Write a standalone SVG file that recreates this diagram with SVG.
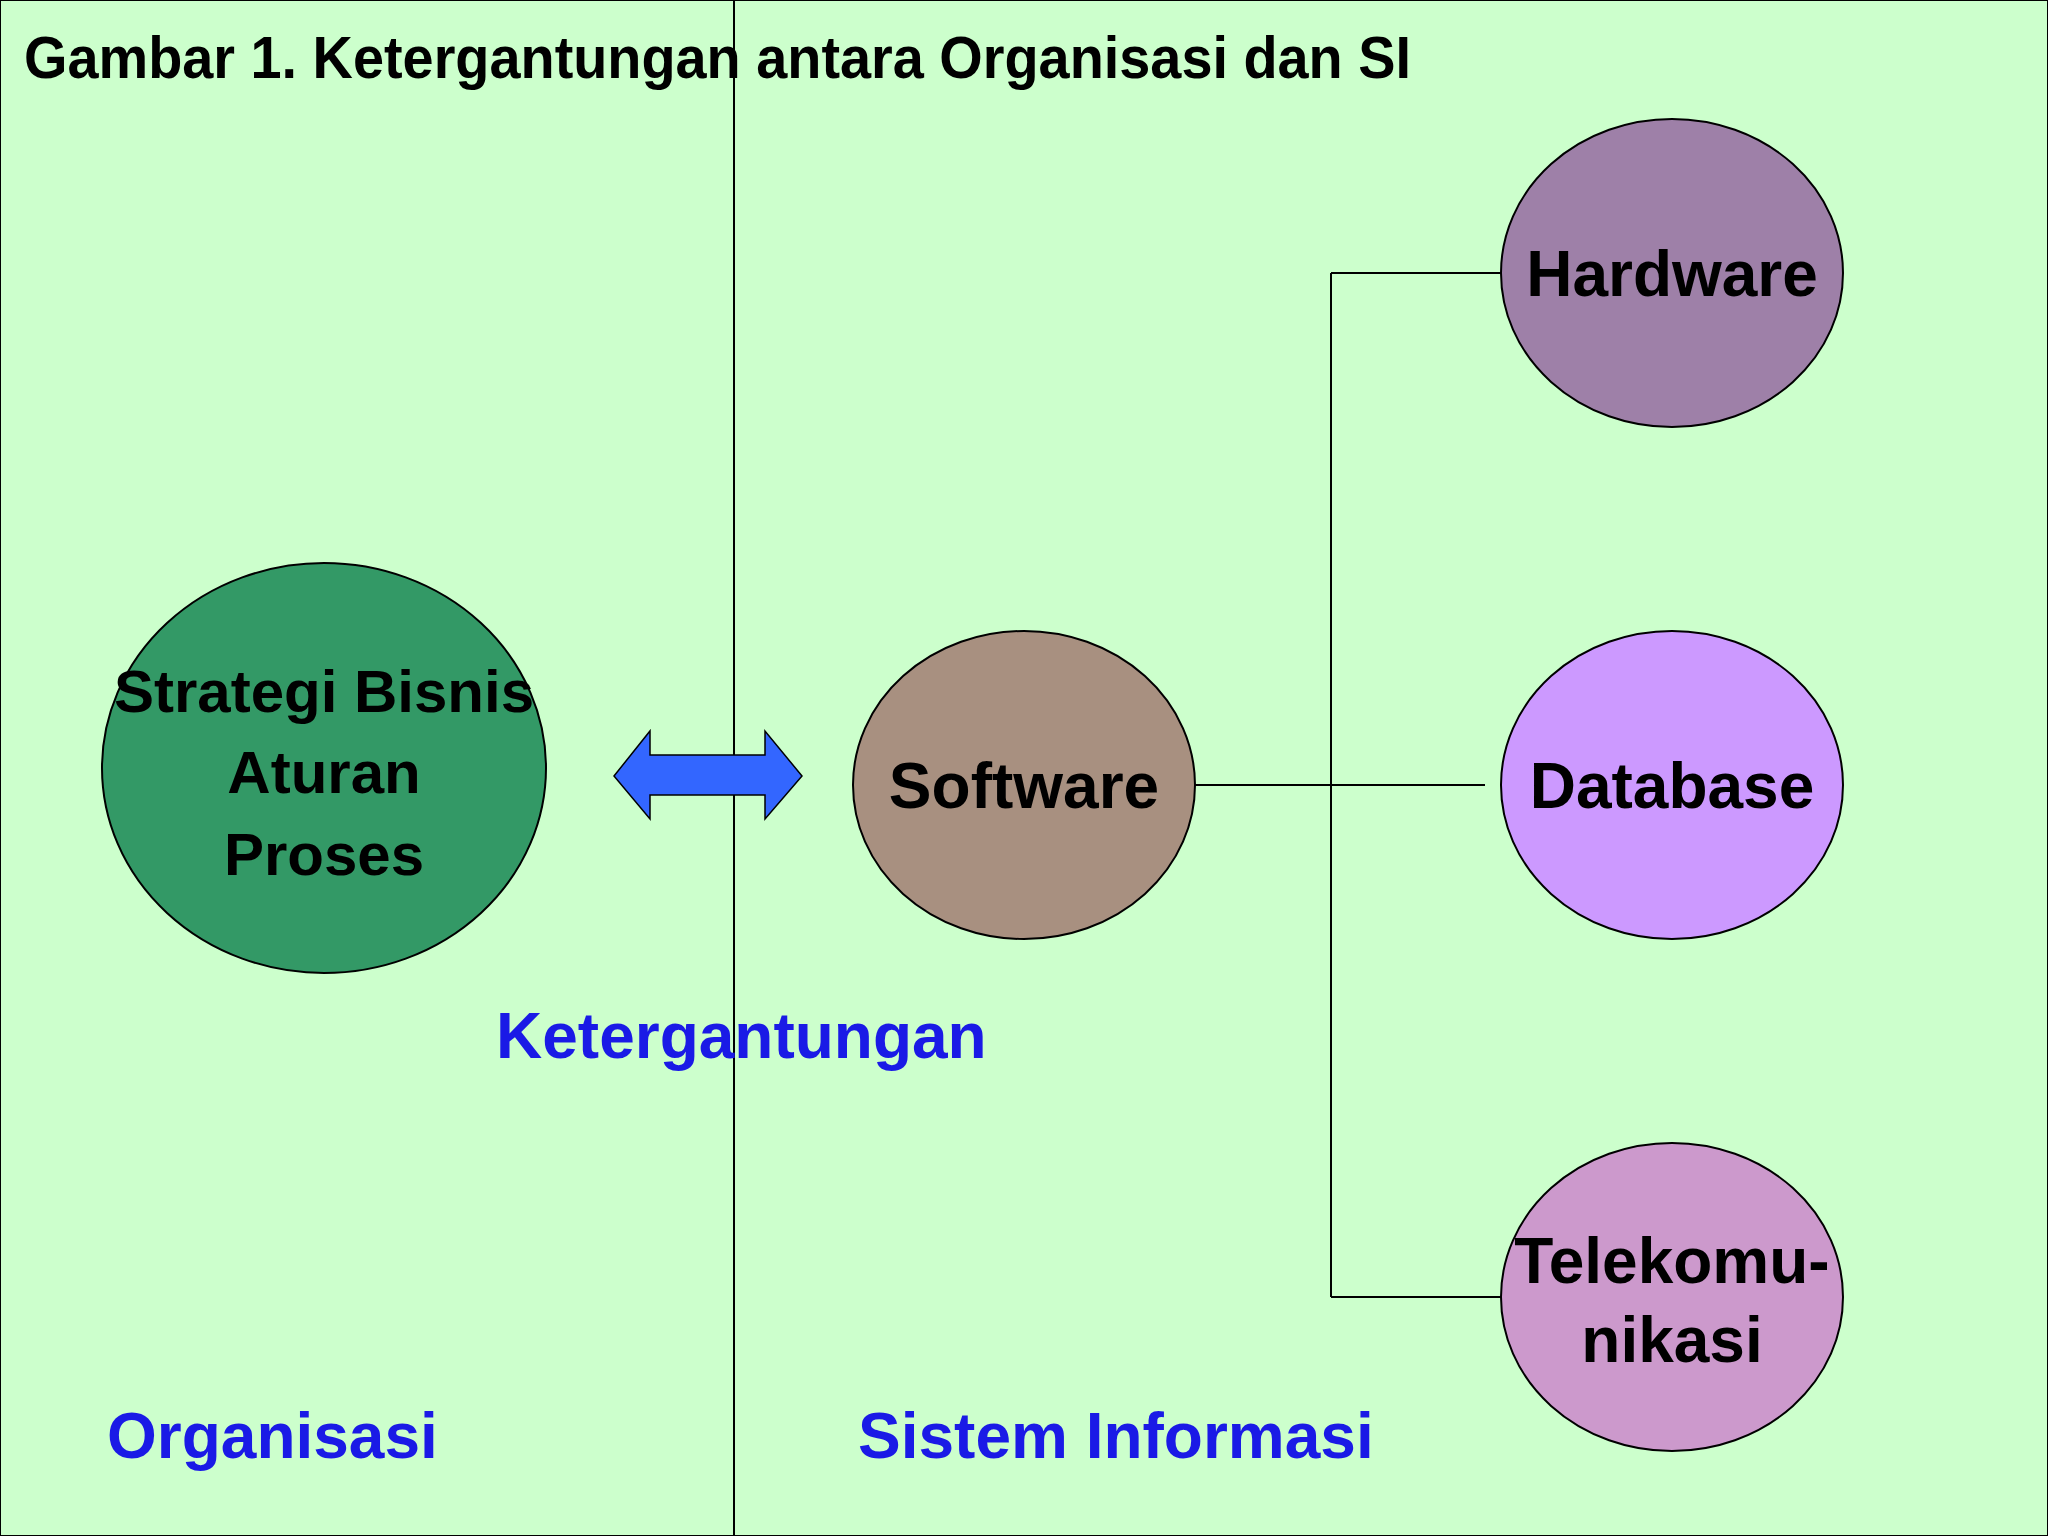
<svg xmlns="http://www.w3.org/2000/svg" width="2048" height="1536" viewBox="0 0 2048 1536">
<style>
.n{font-family:"Liberation Sans Narrow","Liberation Sans",Arial,sans-serif;font-weight:bold;fill:#000}
.b{font-family:"Liberation Sans",Arial,sans-serif;font-weight:bold;fill:#000;font-size:64px}
.blue{font-family:"Liberation Sans",Arial,sans-serif;font-weight:bold;fill:#1a1ae6;font-size:64px}
.e{stroke:#000;stroke-width:2}
.c line{stroke:#000;stroke-width:2}
</style>
<rect x="0" y="0" width="2048" height="1536" fill="#ccffcc" stroke="#000" stroke-width="2"/>
<line x1="734" y1="0" x2="734" y2="1536" stroke="#000" stroke-width="2"/>
<text class="n" x="24" y="78" font-size="60" textLength="1387" lengthAdjust="spacingAndGlyphs">Gambar 1. Ketergantungan antara Organisasi dan SI</text>
<g class="c">
<line x1="1195" y1="785" x2="1485" y2="785"/>
<line x1="1331" y1="273" x2="1331" y2="1297"/>
<line x1="1331" y1="273" x2="1502" y2="273"/>
<line x1="1331" y1="1297" x2="1502" y2="1297"/>
</g>
<g id="strategi">
<ellipse class="e" cx="324" cy="768" rx="222" ry="205" fill="#339966"/>
<text class="n" font-size="60" text-anchor="middle" x="324" y="712">Strategi Bisnis</text>
<text class="n" font-size="60" text-anchor="middle" x="324" y="793">Aturan</text>
<text class="n" font-size="60" text-anchor="middle" x="324" y="875">Proses</text>
</g>
<g id="arrow">
<polygon points="614,776 650,731 650,755 765,755 765,731 802,776 765,819 765,795 650,795 650,819" fill="#3366ff" stroke="#000" stroke-width="1.5"/>
</g>
<g id="software">
<ellipse class="e" cx="1024" cy="785" rx="171" ry="154" fill="#a89080"/>
<text class="b" text-anchor="middle" x="1024" y="808">Software</text>
</g>
<g id="hardware">
<ellipse class="e" cx="1672" cy="273" rx="171" ry="154" fill="#9e80a8"/>
<text class="b" text-anchor="middle" x="1672" y="296">Hardware</text>
</g>
<g id="database">
<ellipse class="e" cx="1672" cy="785" rx="171" ry="154" fill="#cc99ff"/>
<text class="b" text-anchor="middle" x="1672" y="808">Database</text>
</g>
<g id="telekomunikasi">
<ellipse class="e" cx="1672" cy="1297" rx="171" ry="154" fill="#cc99cc"/>
<text class="n" font-size="64" text-anchor="middle" x="1672" y="1283">Telekomu-</text>
<text class="n" font-size="64" text-anchor="middle" x="1672" y="1362">nikasi</text>
</g>
<text class="blue" x="496" y="1058">Ketergantungan</text>
<text class="blue" x="107" y="1458">Organisasi</text>
<text class="blue" x="858" y="1458">Sistem Informasi</text>
</svg>
